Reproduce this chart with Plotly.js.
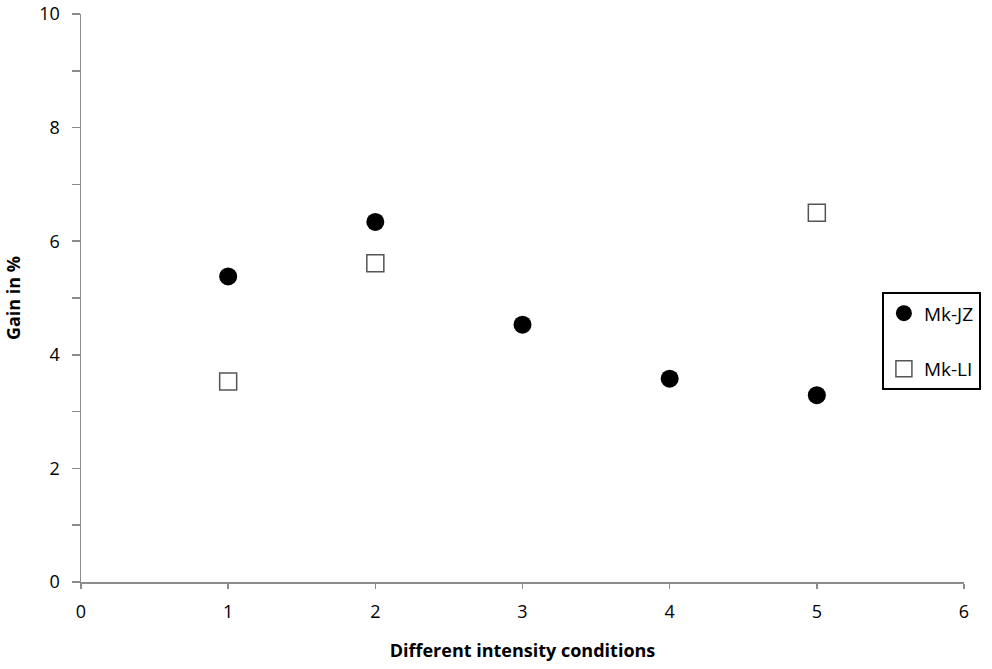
<!DOCTYPE html>
<html>
<head>
<meta charset="utf-8">
<script src="https://cdn.plot.ly/plotly-3.0.1.min.js"></script>
<style>html,body{margin:0;padding:0;background:#fff;}#chart{width:992px;height:669px;}</style>
</head>
<body>
<div id="chart"></div>
<script>
const xJZ = [1, 2, 3, 4, 5];
const yJZ = [5.38, 6.34, 4.53, 3.58, 3.29];
const xLI = [1, 2, 5];
const yLI = [3.53, 5.61, 6.50];
const seriesNames = ["Mk-JZ", "Mk-LI"];
const yTicks = [0, 2, 4, 6, 8, 10];
const xTicks = [0, 1, 2, 3, 4, 5, 6];

const FONT = "'Open Sans', Lato, sans-serif";

const traces = [
  {
    x: xJZ, y: yJZ, name: seriesNames[0], type: "scatter", mode: "markers",
    legendgroup: "a",
    marker: {symbol: "circle", size: 18, color: "#000", line: {width: 0}}
  },
  {
    x: xLI, y: yLI, name: seriesNames[1], type: "scatter", mode: "markers",
    legendgroup: "b",
    marker: {symbol: "square-open", size: 17, color: "#555", line: {width: 1.5}}
  }
];

const layout = {
  width: 992, height: 669,
  margin: {l: 81, r: 27, t: 14, b: 87},
  paper_bgcolor: "#fff", plot_bgcolor: "#fff",
  font: {family: FONT, color: "#000", size: 18},
  showlegend: true,
  legend: {
    x: 0.906, y: 0.51, xanchor: "left", yanchor: "top",
    bordercolor: "#000", borderwidth: 2, bgcolor: "#fff",
    font: {family: FONT, size: 19, color: "#000"},
    traceorder: "grouped", tracegroupgap: 28
  },
  xaxis: {
    range: [0, 6], tickmode: "array", tickvals: xTicks,
    showgrid: false, zeroline: false,
    showline: true, linecolor: "#8c8c8c", linewidth: 1.5,
    ticks: "outside", ticklen: 5, tickcolor: "#8c8c8c", tickwidth: 1.5,
    ticklabelstandoff: 8, ticklabeloverflow: "allow",
    tickfont: {family: FONT, size: 18, color: "#000"},
    title: {text: "Different intensity conditions", standoff: 22,
            font: {family: FONT, size: 18, color: "#000", weight: "bold"}}
  },
  yaxis: {
    range: [0, 10], tickmode: "array", tickvals: yTicks,
    showgrid: false, zeroline: false,
    showline: true, linecolor: "#8c8c8c", linewidth: 1.5,
    ticks: "outside", ticklen: 8, tickcolor: "#8c8c8c", tickwidth: 1.5,
    minor: {ticks: "outside", ticklen: 8, tickcolor: "#8c8c8c", tickwidth: 1.5, dtick: 1, showgrid: false},
    ticklabelstandoff: 8, ticklabeloverflow: "allow",
    tickfont: {family: FONT, size: 18, color: "#000"},
    title: {text: "Gain in %", standoff: 14,
            font: {family: FONT, size: 18, color: "#000", weight: "bold"}}
  }
};

Plotly.newPlot("chart", traces, layout, {displayModeBar: false, staticPlot: true});
</script>
</body>
</html>
